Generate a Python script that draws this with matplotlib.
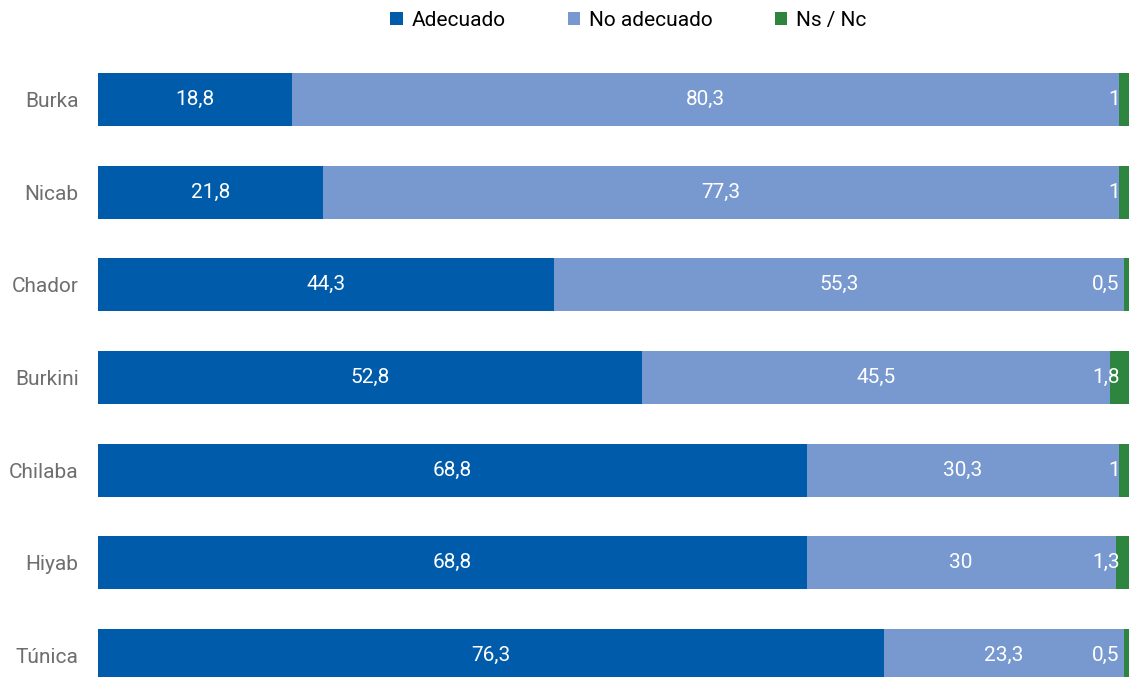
"""Stacked horizontal bars: opinion on Islamic garments."""

import matplotlib

matplotlib.use("Agg")
import matplotlib.pyplot as plt
from matplotlib.patches import Patch


CATEGORIES = ["Burka", "Nicab", "Chador", "Burkini", "Chilaba", "Hiyab", "Túnica"]
ADECUADO = [18.8, 21.8, 44.3, 52.8, 68.8, 68.8, 76.3]
NO_ADECUADO = [80.3, 77.3, 55.3, 45.5, 30.3, 30.0, 23.3]
NS_NC = [1.0, 1.0, 0.5, 1.8, 1.0, 1.3, 0.5]
SERIES_NAMES = ["Adecuado", "No adecuado", "Ns / Nc"]

COLORS = ["#005BAA", "#7799CF", "#2E8540"]
FONT = ["Roboto", "DejaVu Sans"]


def fmt(value):
    text = f"{value:.1f}".replace(".", ",")
    return text[:-2] if text.endswith(",0") else text


def main():
    plt.rcParams["font.family"] = FONT
    fig = plt.figure(figsize=(11.30, 6.77), dpi=100)
    ax = fig.add_axes([98 / 1130, 0, 1031 / 1130, 1])

    y = list(range(len(CATEGORIES)))
    height = 0.57
    left_no = ADECUADO
    left_ns = [a + b for a, b in zip(ADECUADO, NO_ADECUADO)]

    ax.barh(y, ADECUADO, height=height, color=COLORS[0])
    ax.barh(y, NO_ADECUADO, left=left_no, height=height, color=COLORS[1])
    ax.barh(y, NS_NC, left=left_ns, height=height, color=COLORS[2])

    for i in y:
        ax.text(ADECUADO[i] / 2, i, fmt(ADECUADO[i]), color="white",
                ha="center", va="center", fontsize=15)
        ax.text(left_no[i] + NO_ADECUADO[i] / 2, i, fmt(NO_ADECUADO[i]),
                color="white", ha="center", va="center", fontsize=15)
        ax.text(99.2, i, fmt(NS_NC[i]), color="white",
                ha="right", va="center", fontsize=15)

    ax.set_xlim(0, 100.1)
    ax.set_ylim(6.232, -1.074)
    ax.set_yticks(y)
    ax.set_yticklabels(CATEGORIES, fontsize=15, color="#6E6E6E")
    ax.tick_params(axis="y", length=0, pad=14)
    ax.set_xticks([])
    for spine in ax.spines.values():
        spine.set_visible(False)

    handles = [Patch(facecolor=c, edgecolor="none") for c in COLORS]
    fig.legend(handles, SERIES_NAMES, loc="upper center",
               bbox_to_anchor=(0.556, 1.012), ncol=3, frameon=False,
               fontsize=15, handlelength=0.6, handleheight=0.6,
               handletextpad=0.4, columnspacing=3.0)

    fig.savefig("out.png", dpi=100)
    plt.close(fig)


if __name__ == "__main__":
    main()
